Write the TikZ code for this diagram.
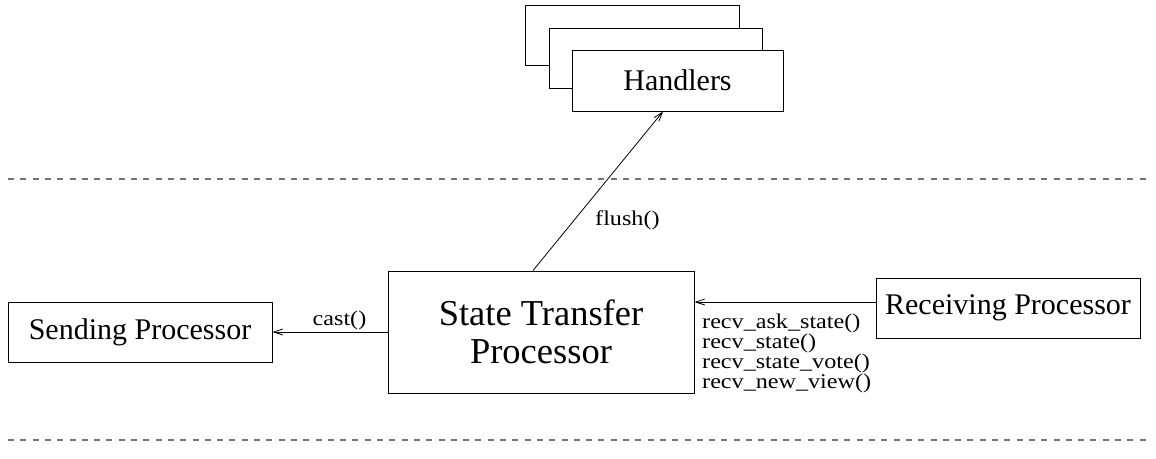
\documentclass[tikz,border=0pt]{standalone}
\usepackage{fontspec}
\setmainfont{Liberation Serif}
\newfontfamily\lblfont[FakeStretch=1.15]{Liberation Serif}
\usetikzlibrary{arrows.meta}
\tikzset{
  box/.style={draw, line width=1pt, fill=white, inner sep=0pt, anchor=center,
    font=\fontsize{30}{36}\selectfont},
  sep/.style={draw=black!55, line width=1.2pt, dash pattern=on 6pt off 6.3pt},
  arr/.style={line width=0.8pt, -{Straight Barb[length=9pt,width=6pt]}},
  lbl/.style={inner sep=0pt, font=\lblfont\fontsize{21}{17.4}\selectfont}
}
\begin{document}
\begin{tikzpicture}[x=1pt,y=-1pt]
  \useasboundingbox (0,0) rectangle (1156,458);

  % layer separators
  \coordinate (s1a) at (8,179);
  \coordinate (s1b) at (1150,179);
  \coordinate (s2a) at (8,440);
  \coordinate (s2b) at (1150,440);
  \draw[sep] (s1a) -- (s1b);
  \draw[sep] (s2a) -- (s2b);

  % stack of handler boxes
  \node[box, minimum width=214pt, minimum height=60pt] (hback) at (632,35) {};
  \node[box, minimum width=213pt, minimum height=60pt] (hmid) at (655.5,58) {};
  \node[box, minimum width=211pt, minimum height=61pt] (hfront) at (677.5,80.5) {Handlers};

  % processors
  \node[box, minimum width=306pt, minimum height=122pt, align=center,
        font=\fontsize{36.5}{38}\selectfont] (stp) at (541,332)
        {State Transfer\\Processor};
  \node[box, minimum width=264pt, minimum height=60pt] (send) at (140,332) {Sending Processor};
  \node[box, minimum width=264pt, minimum height=60pt] (recv) at (1008,308) {Receiving Processor};

  % connectors
  \draw[arr] (stp.west) -- (send.east);
  \draw[arr] ([yshift=6pt]recv.west) -- ([yshift=30pt]stp.east);
  \draw[arr] ([xshift=-8pt]stp.north) -- ([xshift=-14.5pt]hfront.south);

  % connector labels (multi-line base anchor sits on the last line)
  \node[lbl, anchor=base] (lcast) at (339.5,325) {cast()};
  \node[lbl, anchor=base west] (lflush) at (595,225) {flush()};
  \node[lbl, anchor=base west, align=left] (lrecv) at (702,388.2)
    {recv\_ask\_state()\\recv\_state()\\recv\_state\_vote()\\recv\_new\_view()};
\end{tikzpicture}
\end{document}
